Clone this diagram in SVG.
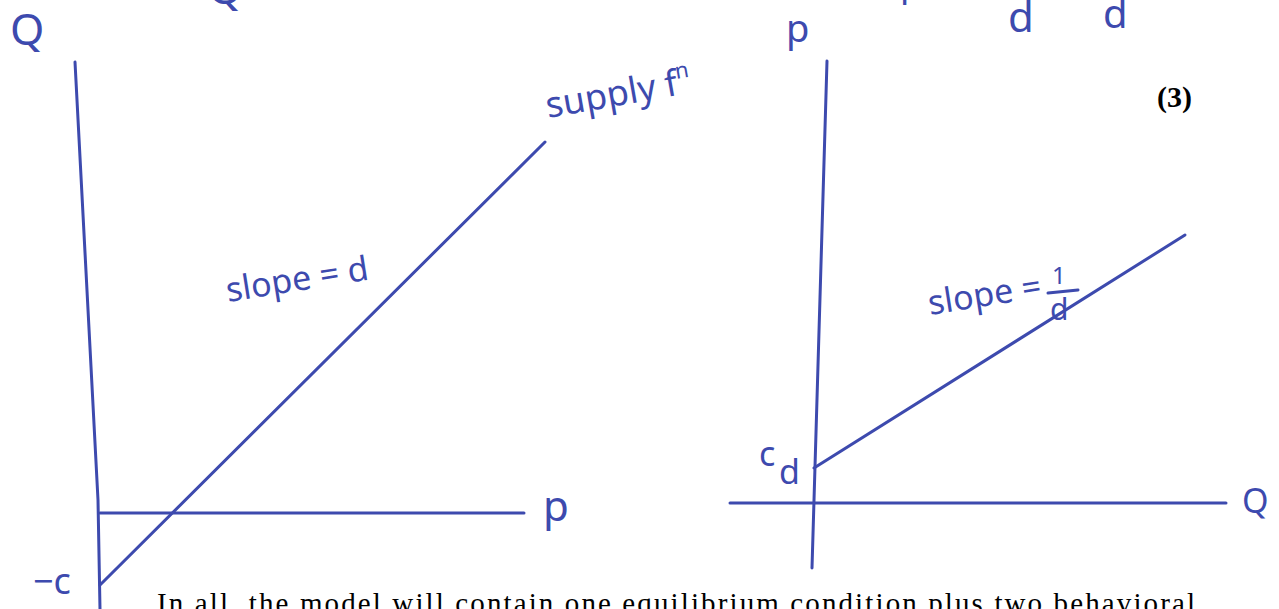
<svg xmlns="http://www.w3.org/2000/svg" width="1279" height="609" viewBox="0 0 1279 609">
<style>
.ln{stroke:#3d4aae;stroke-width:3;fill:none;stroke-linecap:round;stroke-linejoin:round}
.hw{fill:#3d4aae;font-family:"Noto Sans","DejaVu Sans",sans-serif}
.tx{fill:#000;font-family:"Liberation Serif","Times New Roman",serif}
</style>
<rect width="1279" height="609" fill="#fff"/>
<g id="top-fragments">
<text class="hw" x="208" y="4" font-size="44">Q</text>
<text class="hw" x="900" y="-4" font-size="36">p</text>
<text class="hw" x="1008" y="32" font-size="42">d</text>
<text class="hw" x="1103" y="28" font-size="40">d</text>
</g>
<g id="equation-number">
<text class="tx" x="1157" y="107" font-size="30" font-weight="bold">(3)</text>
</g>
<g id="connectors">
<polyline id="left-q-axis" class="ln" points="75,62 98,500 100,609"/>
<line id="left-p-axis" class="ln" x1="100" y1="513" x2="524" y2="513"/>
<line id="supply-line" class="ln" x1="100" y1="585" x2="545" y2="142"/>
<line id="right-p-axis" class="ln" x1="827" y1="61" x2="812" y2="568"/>
<line id="right-q-axis" class="ln" x1="730" y1="503" x2="1226" y2="503"/>
<line id="inverse-line" class="ln" x1="814" y1="468" x2="1185" y2="235"/>
</g>
<g id="left-labels">
<text class="hw" x="10" y="45" font-size="44">Q</text>
<text class="hw" x="543" y="521" font-size="42">p</text>
<text class="hw" x="33" y="594" font-size="36">−c</text>
<text class="hw" x="228" y="302" font-size="34" transform="rotate(-9 228 302)">slope = d</text>
<text class="hw" x="548" y="118" font-size="36" transform="rotate(-10 548 118)">supply f<tspan font-size="22" dy="-16">n</tspan></text>
</g>
<g id="right-labels">
<text class="hw" x="786" y="42" font-size="38">p</text>
<text class="hw" x="1242" y="513" font-size="34">Q</text>
<text class="hw" x="759" y="466" font-size="34">c</text>
<text class="hw" x="779" y="484" font-size="34">d</text>
<text class="hw" x="930" y="315" font-size="34" transform="rotate(-9 930 315)">slope =</text>
<text class="hw" x="1052" y="284" font-size="24">1</text>
<line class="ln" x1="1048" y1="293" x2="1078" y2="290"/>
<text class="hw" x="1050" y="320" font-size="30">d</text>
</g>
<g id="body-text">
<text class="tx" x="157" y="613" font-size="29" textLength="1038" lengthAdjust="spacing">In all, the model will contain one equilibrium condition plus two behavioral</text>
</g>
</svg>
